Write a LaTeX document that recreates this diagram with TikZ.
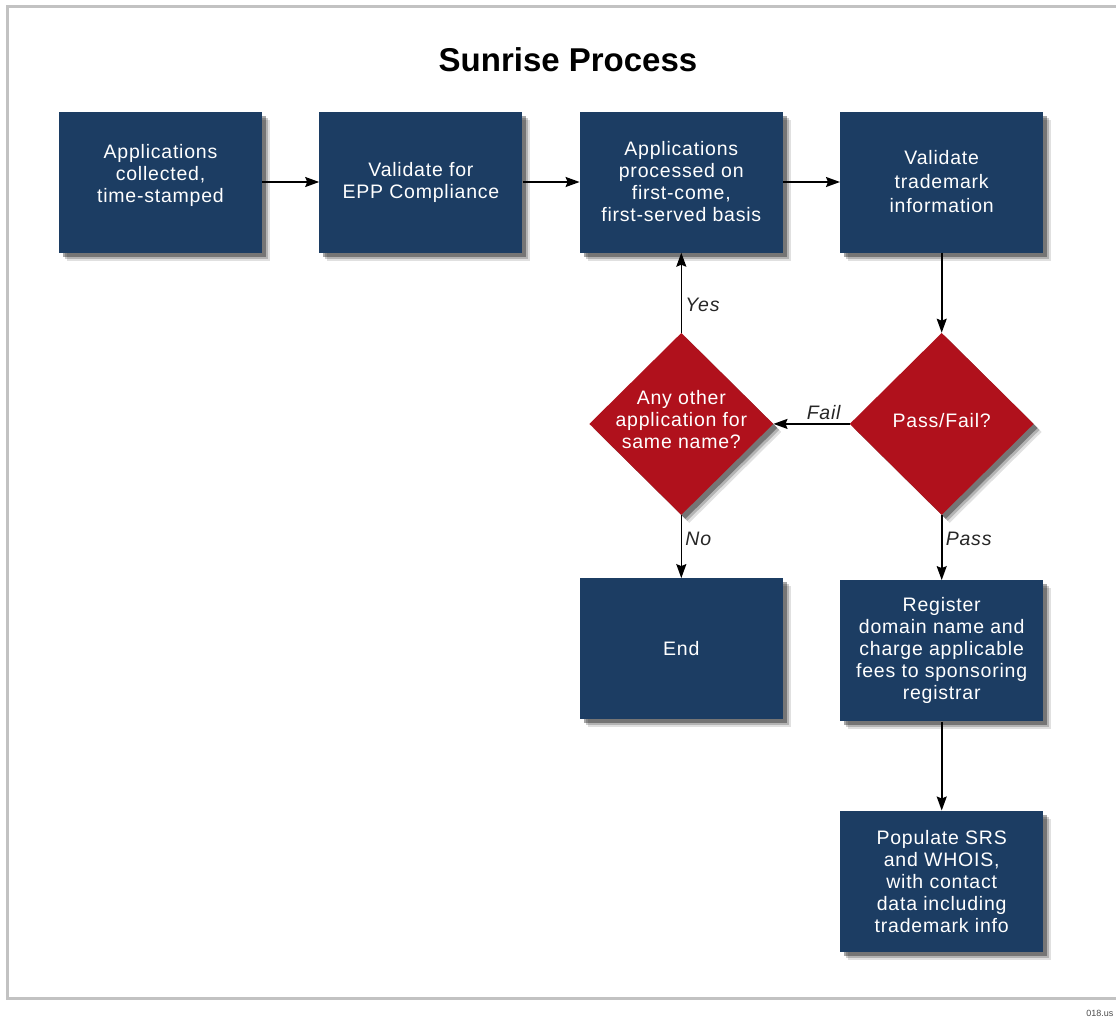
\documentclass[tikz,border=0pt]{standalone}
\usepackage{fontspec}
\setmainfont{Liberation Sans}
\newfontfamily\boxfont{Liberation Sans}[LetterSpace=4]
\usetikzlibrary{positioning}
\usetikzlibrary{shapes.geometric}
\usetikzlibrary{arrows.meta}
\usetikzlibrary{shadows}
\definecolor{boxblue}{HTML}{1C3D63}
\definecolor{decred}{HTML}{B0111C}
\definecolor{framegray}{HTML}{C2C2C2}
\tikzset{%
  softshadow/.style = {
        drop shadow={shadow xshift=8pt,shadow yshift=-8pt,fill=black,opacity=0.12},
        drop shadow={shadow xshift=6pt,shadow yshift=-6pt,fill=black,opacity=0.2},
        drop shadow={shadow xshift=4pt,shadow yshift=-4pt,fill=black,opacity=0.35}},
  procbox/.style = {rectangle,fill=boxblue,text=white,align=center,
        minimum width=203pt,minimum height=141pt,inner sep=0pt,
        font=\boxfont\fontsize{19.5}{22}\selectfont,softshadow},
  decision/.style = {diamond,fill=decred,minimum width=184pt,
        minimum height=182pt,inner sep=0pt,softshadow},
  dtext/.style = {text=white,align=center,
        font=\boxfont\fontsize{19.5}{22}\selectfont},
  flow/.style = {-{Stealth[length=14pt,width=10pt,inset=2pt]},line width=1.6pt},
  answer/.style = {font=\boxfont\itshape\fontsize{19.5}{22}\selectfont,
        text=black!85}
}

\begin{document}
\begin{tikzpicture}[x=1pt,y=-1pt,node distance=57pt and 57pt]
        \useasboundingbox (0,0) rectangle (1116,1023);
        \draw[framegray,line width=3pt] (1116,6) -- (7,6) -- (7,998) -- (1116,998);
        \node[font=\bfseries\fontsize{33}{38}\selectfont] (heading) at (568,60) {Sunrise Process};

        \node[procbox] (collect) at (160.5,182) {Applications\\collected,\\time-stamped\\[-4pt]};
        \node[procbox] (epp) [right=of collect] {Validate for\\EPP Compliance};
        \node[procbox] (fcfs) [right=of epp] {Applications\\processed on\\first-come,\\first-served basis};
        \node[procbox] (tmcheck) [right=of fcfs] {Validate\\[2pt]trademark\\[2pt]information};

        \node[decision] (passfail) [below=80pt of tmcheck] {};
        \node[dtext] (passfail-txt) at ([yshift=3pt]passfail) {Pass/Fail?};
        \node[decision] (samename) [below=80pt of fcfs] {};
        \node[dtext] (samename-txt) at ([yshift=4pt]samename) {Any other\\application for\\same name?};

        \node[procbox] (finish) [below=63pt of samename] {End};
        \node[procbox] (register) [below=65pt of passfail] {Register\\domain name and\\charge applicable\\fees to sponsoring\\registrar};
        \node[procbox] (populate) [below=89pt of register] {Populate SRS\\and WHOIS,\\with contact\\data including\\trademark info};

        \draw[flow] (collect) -- (epp);
        \draw[flow] (epp) -- (fcfs);
        \draw[flow] (fcfs) -- (tmcheck);
        \draw[flow] (tmcheck) -- (passfail);
        \draw[flow] (passfail) -- node[answer,above,pos=0.34] {Fail} (samename);
        \draw[flow] (samename) -- node[answer,right,pos=0.35] {Yes} (fcfs);
        \draw[flow] (samename) -- node[answer,right,pos=0.37] {No} (finish);
        \draw[flow] (passfail) -- node[answer,right,pos=0.37] {Pass} (register);
        \draw[flow] (register) -- (populate);

        \node[anchor=east,font=\fontsize{9}{10}\selectfont,text=black!70] (code) at (1117,1013) {018.us};
    \end{tikzpicture}
\end{document}
